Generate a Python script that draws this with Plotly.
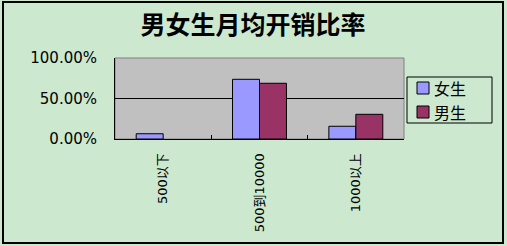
import plotly.graph_objects as go

categories = ["500以下", "500到10000", "1000以上"]
female = [0.065, 0.737, 0.157]
male = [0.0, 0.688, 0.305]
series_names = ["女生", "男生"]
series_colors = ["#9999FF", "#993366"]
title_text = "男女生月均开销比率"

W, H = 507, 246
L, R, T, B = 115, 103, 58, 107
pw, ph = W - L - R, H - T - B

def px_x(x):
    return (x - L) / pw

def px_y(y):
    return (H - B - y) / ph

font_fam = "DejaVu Sans, Noto Sans CJK SC"

fig = go.Figure()
for name, vals, col in zip(series_names, [female, male], series_colors):
    fig.add_trace(go.Bar(
        x=categories, y=vals, name=name, showlegend=False,
        marker=dict(color=col,
                    line=dict(color="#000000", width=[1 if v > 0 else 0 for v in vals]))))

leg_font = 16
row_centers = [88, 112]

shapes = [
    dict(type="rect", xref="paper", yref="paper", x0=0, x1=1, y0=0, y1=1,
         line=dict(color="#808080", width=1), fillcolor="rgba(0,0,0,0)", layer="below"),
    dict(type="line", xref="paper", yref="y", x0=0, x1=1, y0=0.5, y1=0.5,
         line=dict(color="#000000", width=1), layer="below"),
    dict(type="rect", xref="paper", yref="paper",
         x0=px_x(3), x1=px_x(503), y0=px_y(243), y1=px_y(2),
         line=dict(color="#000000", width=2), fillcolor="rgba(0,0,0,0)", layer="above"),
    # legend box
    dict(type="rect", xref="paper", yref="paper",
         x0=px_x(407), x1=px_x(492), y0=px_y(123), y1=px_y(77),
         line=dict(color="#000000", width=1), fillcolor="rgba(0,0,0,0)"),
]
annotations = []
for name, col, yc in zip(series_names, series_colors, row_centers):
    shapes.append(dict(type="rect", xref="paper", yref="paper",
                       x0=px_x(417), x1=px_x(429), y0=px_y(yc + 6), y1=px_y(yc - 6),
                       line=dict(color="#000000", width=1), fillcolor=col))
    annotations.append(dict(text=name, xref="paper", yref="paper",
                            x=px_x(432), y=px_y(yc), xanchor="left", yanchor="middle",
                            showarrow=False,
                            font=dict(family="Noto Sans CJK SC", size=leg_font, color="#000000")))

fig.update_layout(
    width=W, height=H,
    margin=dict(l=L, r=R, t=T, b=B),
    paper_bgcolor="#CCE8CF",
    plot_bgcolor="#C0C0C0",
    barmode="group",
    bargap=0.44,
    bargroupgap=0,
    showlegend=False,
    font=dict(family=font_fam, size=14, color="#000000"),
    title=dict(text="<b>" + title_text + "</b>", x=px_x(253), xref="paper", xanchor="center",
               y=1 - 25 / H, yanchor="middle",
               font=dict(family="Noto Sans CJK SC", size=25, color="#000000")),
    xaxis=dict(showgrid=False, showline=True, linecolor="#000000", linewidth=1,
               ticks="inside", tickson="boundaries", ticklen=4, tickcolor="#000000",
               tickangle=-90, ticklabelstandoff=8,
               tickfont=dict(family=font_fam, size=13)),
    yaxis=dict(range=[0, 1], tickvals=[0, 0.5, 1], tickformat=".2%",
               showgrid=False, zeroline=False, showline=True, linecolor="#000000", linewidth=1,
               ticks="", ticklabelstandoff=14,
               tickfont=dict(family=font_fam, size=15)),
    shapes=shapes,
    annotations=annotations,
)

fig.write_html("out.html")
